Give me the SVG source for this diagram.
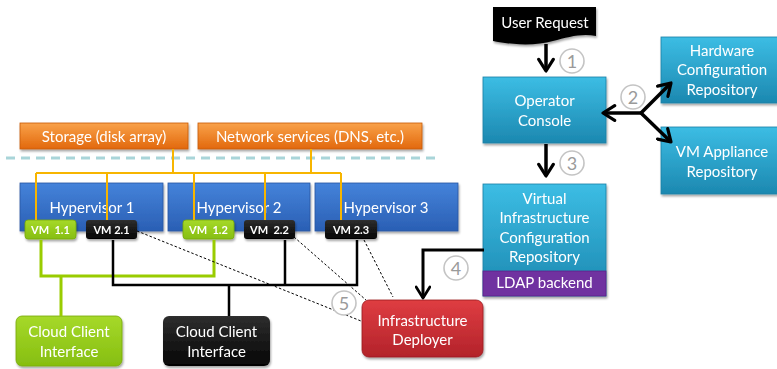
<svg xmlns="http://www.w3.org/2000/svg" width="777" height="369" viewBox="0 0 777 369">
  <defs>
    <linearGradient id="gOrange" x1="0" y1="0" x2="0" y2="1">
      <stop offset="0" stop-color="#f9a24a"/>
      <stop offset="1" stop-color="#e2680c"/>
    </linearGradient>
    <linearGradient id="gBlue" x1="0" y1="0" x2="0" y2="1">
      <stop offset="0" stop-color="#4583da"/>
      <stop offset="1" stop-color="#2a5fb4"/>
    </linearGradient>
    <linearGradient id="gCyan" x1="0" y1="0" x2="0" y2="1">
      <stop offset="0" stop-color="#3cbde4"/>
      <stop offset="1" stop-color="#1c88b0"/>
    </linearGradient>
    <linearGradient id="gGreen" x1="0" y1="0" x2="0" y2="1">
      <stop offset="0" stop-color="#a6d92a"/>
      <stop offset="1" stop-color="#86be10"/>
    </linearGradient>
    <linearGradient id="gBlack" x1="0" y1="0" x2="0" y2="1">
      <stop offset="0" stop-color="#2e2e2e"/>
      <stop offset="1" stop-color="#050505"/>
    </linearGradient>
    <linearGradient id="gRed" x1="0" y1="0" x2="0" y2="1">
      <stop offset="0" stop-color="#df3d42"/>
      <stop offset="1" stop-color="#b3232a"/>
    </linearGradient>
    <filter id="shadow" x="-10%" y="-10%" width="125%" height="135%">
      <feDropShadow dx="1" dy="2" stdDeviation="1.2" flood-color="#000" flood-opacity="0.35"/>
    </filter>
    <marker id="chev" viewBox="0 0 12 12" refX="10" refY="6" markerWidth="5" markerHeight="5" orient="auto" markerUnits="strokeWidth">
      <path d="M2,1 L10,6 L2,11" fill="none" stroke="#000" stroke-width="2.2" stroke-linecap="round" stroke-linejoin="round"/>
    </marker>
    <marker id="chevThin" viewBox="0 0 12 12" refX="10" refY="6" markerWidth="5.5" markerHeight="5.5" orient="auto" markerUnits="strokeWidth">
      <path d="M2,1 L10,6 L2,11" fill="none" stroke="#000" stroke-width="2" stroke-linecap="round" stroke-linejoin="round"/>
    </marker>
  </defs>
  <style>
    text { font-family: Lato, "Open Sans", "Liberation Sans", sans-serif; fill: #fff; text-anchor: middle; }
    .lbl { font-size: 15px; }
    .big { font-size: 15px; }
    .vm { font-size: 11px; font-weight: bold; }
    .num { font-size: 18px; fill: #9a9a9a; }
    .badge { fill: #fff; stroke: #c4c4c4; stroke-width: 1.6; }
    .yel { stroke: #f7b500; stroke-width: 2; fill: none; }
    .grn { stroke: #99cc00; stroke-width: 3; fill: none; }
    .blk { stroke: #000; stroke-width: 2.5; fill: none; }
    .dot { stroke: #000; stroke-width: 1; stroke-dasharray: 2.5 2; fill: none; }
    .flow { stroke: #000; stroke-width: 3.5; fill: none; }
  </style>

  <!-- boundary between shared services and hosts -->
  <line x1="6" y1="158" x2="440" y2="158" stroke="#a9d5d9" stroke-width="3" stroke-dasharray="9 6"/>

  <!-- shared services -->
  <g id="storage" filter="url(#shadow)">
    <rect x="20" y="123" width="168" height="26" fill="url(#gOrange)" stroke="#c85a08" stroke-width="0.8"/>
    <text class="lbl" x="104" y="141.5">Storage (disk array)</text>
  </g>
  <g id="network-services" filter="url(#shadow)">
    <rect x="198" y="123" width="224" height="26" fill="url(#gOrange)" stroke="#c85a08" stroke-width="0.8"/>
    <text class="lbl" x="310" y="141.5">Network services (DNS, etc.)</text>
  </g>

  <!-- hypervisors -->
  <g id="hypervisor-1" filter="url(#shadow)">
    <rect x="20" y="183" width="143" height="48" fill="url(#gBlue)" stroke="#2a56a0" stroke-width="0.8"/>
    <text class="big" x="92" y="213">Hypervisor 1</text>
  </g>
  <g id="hypervisor-2" filter="url(#shadow)">
    <rect x="168" y="183" width="142" height="48" fill="url(#gBlue)" stroke="#2a56a0" stroke-width="0.8"/>
    <text class="big" x="239" y="213">Hypervisor 2</text>
  </g>
  <g id="hypervisor-3" filter="url(#shadow)">
    <rect x="315" y="183" width="143" height="48" fill="url(#gBlue)" stroke="#2a56a0" stroke-width="0.8"/>
    <text class="big" x="386" y="213">Hypervisor 3</text>
  </g>

  <!-- virtual machines -->
  <g id="vm-1-1" filter="url(#shadow)">
    <rect x="25" y="220" width="51" height="19" rx="3" fill="url(#gGreen)" stroke="#76a80a" stroke-width="0.8"/>
    <text class="vm" x="50.5" y="233.5" xml:space="preserve">VM  1.1</text>
  </g>
  <g id="vm-2-1" filter="url(#shadow)">
    <rect x="86" y="220" width="51" height="19" rx="3" fill="url(#gBlack)"/>
    <text class="vm" x="111.5" y="233.5">VM 2.1</text>
  </g>
  <g id="vm-1-2" filter="url(#shadow)">
    <rect x="183" y="220" width="51" height="19" rx="3" fill="url(#gGreen)" stroke="#76a80a" stroke-width="0.8"/>
    <text class="vm" x="208.5" y="233.5" xml:space="preserve">VM  1.2</text>
  </g>
  <g id="vm-2-2" filter="url(#shadow)">
    <rect x="244" y="220" width="51" height="19" rx="3" fill="url(#gBlack)"/>
    <text class="vm" x="269.5" y="233.5" xml:space="preserve">VM  2.2</text>
  </g>
  <g id="vm-2-3" filter="url(#shadow)">
    <rect x="325" y="220" width="52" height="19" rx="3" fill="url(#gBlack)"/>
    <text class="vm" x="351" y="233.5">VM 2.3</text>
  </g>

  <!-- client interfaces -->
  <g id="cloud-client-green" filter="url(#shadow)">
    <rect x="16" y="316" width="106" height="50" rx="6" fill="url(#gGreen)" stroke="#76a80a" stroke-width="0.8"/>
    <text class="big" x="69" y="337">Cloud Client</text>
    <text class="big" x="69" y="357">Interface</text>
  </g>
  <g id="cloud-client-black" filter="url(#shadow)">
    <rect x="163" y="316" width="107" height="50" rx="6" fill="url(#gBlack)"/>
    <text class="big" x="216.5" y="337">Cloud Client</text>
    <text class="big" x="216.5" y="357">Interface</text>
  </g>

  <!-- deployer -->
  <g id="infrastructure-deployer" filter="url(#shadow)">
    <rect x="362" y="300" width="121" height="57" rx="7" fill="url(#gRed)" stroke="#9a1a20" stroke-width="0.8"/>
    <text class="big" x="422.5" y="326">Infrastructure</text>
    <text class="big" x="422.5" y="345">Deployer</text>
  </g>

  <!-- management plane -->
  <g id="user-request" filter="url(#shadow)">
    <path d="M493,7 H596 V36 C582,33 568,37 553,41 C536,46 512,45 493,41 Z" fill="#000"/>
    <text class="big" x="545" y="28">User Request</text>
  </g>
  <g id="operator-console" filter="url(#shadow)">
    <rect x="483" y="77" width="123" height="66" fill="url(#gCyan)" stroke="#1b7fa6" stroke-width="0.8"/>
    <text class="big" x="544.5" y="106">Operator</text>
    <text class="big" x="544.5" y="126">Console</text>
  </g>
  <g id="hardware-config-repo" filter="url(#shadow)">
    <rect x="661" y="37" width="120" height="66" fill="url(#gCyan)" stroke="#1b7fa6" stroke-width="0.8"/>
    <text class="big" x="722" y="56">Hardware</text>
    <text class="big" x="722" y="75">Configuration</text>
    <text class="big" x="722" y="95">Repository</text>
  </g>
  <g id="vm-appliance-repo" filter="url(#shadow)">
    <rect x="661" y="127" width="120" height="67" fill="url(#gCyan)" stroke="#1b7fa6" stroke-width="0.8"/>
    <text class="big" x="722" y="157">VM Appliance</text>
    <text class="big" x="722" y="177">Repository</text>
  </g>
  <g id="virtual-infra-config-repo" filter="url(#shadow)">
    <rect x="483" y="184" width="123" height="112" fill="url(#gCyan)" stroke="#1b7fa6" stroke-width="0.8"/>
    <rect x="483" y="271" width="123" height="25" fill="#7030a0" stroke="#5c2588" stroke-width="0.8"/>
    <text class="big" x="544.5" y="204">Virtual</text>
    <text class="big" x="544.5" y="223">Infrastructure</text>
    <text class="big" x="544.5" y="243">Configuration</text>
    <text class="big" x="544.5" y="262">Repository</text>
    <text class="lbl" x="544.5" y="288">LDAP backend</text>
  </g>

  <!-- connectors, drawn over the boxes -->
  <g id="connectors">
    <!-- shared services bus -->
    <path class="yel" d="M173,149 V173 M311,149 V173 M36,173 H341 M36,173 V220 M107,173 V220 M194,173 V220 M265,173 V220 M341,173 V220"/>
    <!-- green client network -->
    <path class="grn" d="M41,240 V276 H214 V240 M61,276 V316"/>
    <!-- black client network -->
    <path class="blk" d="M113,240 V285 H357 V240 M285,240 V285 M229,285 V316"/>
    <!-- deployment links -->
    <path class="dot" d="M137,231 L361,321"/>
    <path class="dot" d="M294,237 L366,300"/>
    <path class="dot" d="M364,240 L393,297"/>
    <!-- step 1 -->
    <path class="flow" d="M546,44 V71" marker-end="url(#chev)"/>
    <!-- step 3 -->
    <path class="flow" d="M546,144 V176" marker-end="url(#chev)"/>
    <!-- step 2 -->
    <path class="flow" d="M641,113 H603" marker-end="url(#chev)"/>
    <path class="flow" d="M641,113 L671,83" marker-end="url(#chev)"/>
    <path class="flow" d="M641,113 L671,142" marker-end="url(#chev)"/>
    <!-- step 4 -->
    <path d="M484,250 H423 V298" stroke="#000" stroke-width="3" fill="none" marker-end="url(#chevThin)"/>
  </g>

  <!-- step badges -->
  <g id="step-1"><circle class="badge" cx="572" cy="61" r="12"/><text class="num" x="572" y="67.5">1</text></g>
  <g id="step-2"><circle class="badge" cx="633" cy="97" r="12"/><text class="num" x="633" y="103.5">2</text></g>
  <g id="step-3"><circle class="badge" cx="572" cy="163" r="12"/><text class="num" x="572" y="169.5">3</text></g>
  <g id="step-4"><circle class="badge" cx="456" cy="268" r="12"/><text class="num" x="456" y="274.5">4</text></g>
  <g id="step-5"><circle class="badge" cx="344" cy="303" r="12"/><text class="num" x="344" y="309.5">5</text></g>
</svg>
